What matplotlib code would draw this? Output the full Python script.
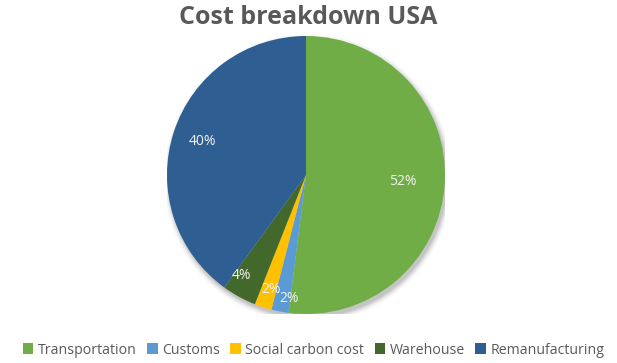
import matplotlib
matplotlib.use("Agg")
import matplotlib.pyplot as plt
import numpy as np

categories = ["Transportation", "Customs", "Social carbon cost", "Warehouse", "Remanufacturing"]
values = [52, 2, 2, 4, 40]
colors = ["#70AD47", "#5B9BD5", "#FFC000", "#43682B", "#2E5E92"]
label_dist = [0.70, 0.90, 0.86, 0.86, 0.78]
label_shift = [0, 3.0, 1.0, -4.0, 0]  # angular nudges (degrees) for the narrow slices

plt.rcParams["font.family"] = ["Open Sans", "DejaVu Sans"]

W, H = 617, 363
fig = plt.figure(figsize=(W / 100, H / 100), dpi=100)
fig.patch.set_facecolor("white")

cx, cy, r = 306, 175, 139
ax = fig.add_axes([(cx - r) / W, (H - cy - r) / H, 2 * r / W, 2 * r / H])
ax.set_xlim(-1, 1)
ax.set_ylim(-1, 1)
ax.set_aspect("equal")
ax.axis("off")

# soft drop shadow under the pie
for i, a in enumerate(np.linspace(0.06, 0.012, 7)):
    sh = plt.Circle((0.015, -0.025), 1.0 + i * 0.007, color="black", alpha=a, lw=0, zorder=0)
    ax.add_patch(sh)

wedges, texts, autotexts = ax.pie(
    values, colors=colors, startangle=90, counterclock=False, radius=1.0,
    autopct="%d%%", pctdistance=0.7,
    wedgeprops=dict(linewidth=0),
    textprops=dict(color="#F2F2F2", fontsize=10),
)
ax.set_xlim(-1, 1)
ax.set_ylim(-1, 1)
for w, t, d, s in zip(wedges, autotexts, label_dist, label_shift):
    ang = np.deg2rad((w.theta1 + w.theta2) / 2 + s)
    t.set_position((d * np.cos(ang), d * np.sin(ang)))

fig.text(0.5, 1 - 18 / H, "Cost breakdown USA", ha="center", va="center",
         fontsize=18, fontweight="bold", color="#595959")

leg = fig.legend(wedges, categories, loc="center", bbox_to_anchor=(0.508, 1 - 350 / H),
                 ncol=5, frameon=False, fontsize=10.2, handlelength=0.75, handleheight=0.75,
                 handletextpad=0.3, columnspacing=0.75, labelcolor="#595959",
                 borderpad=0.2)

fig.savefig("out.png", dpi=100, facecolor="white")
